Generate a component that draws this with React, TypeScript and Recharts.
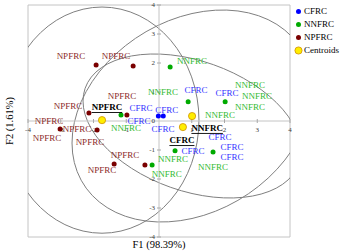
import React from 'react';
import { ComposedChart, Scatter, XAxis, YAxis, ReferenceLine, ReferenceDot, ReferenceArea } from 'recharts';

const groups = ['CFRC', 'NNFRC', 'NPFRC'];
const pointColors = ['#0000ff', '#00aa00', '#7a0000'];
const labelColors = ['#3333ff', '#33bb33', '#8b2a2a'];

const cfrcPoints = [
  { x: -0.02, y: 0.17 }, { x: 0.13, y: 0.17 },
];
const nnfrcPoints = [
  { x: 0.34, y: 1.86 }, { x: 0.89, y: 0.66 }, { x: 2.02, y: 0.66 }, { x: -1.16, y: 0.21 },
  { x: 0.49, y: -1.03 }, { x: 1.65, y: -1.07 }, { x: -0.21, y: -1.52 },
];
const npfrcPoints = [
  { x: -1.92, y: 1.93 }, { x: -0.79, y: 1.9 }, { x: -2.14, y: 0.28 }, { x: -0.98, y: 0.21 },
  { x: -3.02, y: -0.28 }, { x: -1.89, y: -0.31 }, { x: -1.37, y: -1.48 }, { x: -0.43, y: -1.52 },
];
const centroids = [
  { name: 'NPFRC', x: -1.74, y: 0.03 },
  { name: 'NNFRC', x: 1.01, y: 0.17 },
  { name: 'CFRC', x: 0.73, y: -0.21 },
];

const cfrcLabels = [
  { x: -0.55, y: 0.45 }, { x: 0.24, y: 0.38 }, { x: -0.61, y: 0.0 }, { x: 0.12, y: -0.28 },
  { x: 1.13, y: 1.07 }, { x: 2.08, y: 0.97 }, { x: 1.86, y: -0.55 }, { x: 1.04, y: -1.03 },
  { x: 2.23, y: -0.9 }, { x: 2.23, y: -1.24 },
];
const nnfrcLabels = [
  { x: 1.01, y: 2.07 }, { x: 0.12, y: 1.0 }, { x: 2.78, y: 1.24 }, { x: 2.99, y: 0.86 },
  { x: 2.78, y: 0.48 }, { x: 1.86, y: 0.21 }, { x: -1.01, y: -0.24 }, { x: 0.43, y: -1.31 },
  { x: 0.24, y: -1.83 }, { x: 1.65, y: -1.59 },
];
const npfrcLabels = [
  { x: -2.69, y: 2.24 }, { x: -1.31, y: 2.24 }, { x: -1.13, y: 0.86 }, { x: -2.78, y: 0.52 },
  { x: -3.36, y: 0.0 }, { x: -2.5, y: -0.28 }, { x: -3.42, y: -0.59 }, { x: -2.11, y: -0.72 },
  { x: -1.04, y: -1.17 }, { x: -1.74, y: -1.69 },
];
const centroidLabels = [
  { name: 'NPFRC', x: -1.59, y: 0.48 },
  { name: 'NNFRC', x: 1.47, y: -0.24 },
  { name: 'CFRC', x: 0.7, y: -0.66 },
];

// confidence ellipses: bounding box in data units and a tilt (vertical shear fraction)
const ellipses = [
  { name: 'NPFRC', x1: -4.7, x2: 1.22, y1: -3.87, y2: 3.93, tilt: 0 },
  { name: 'NNFRC', x1: -2.656, x2: 4.672, y1: -3.483, y2: 3.827, tilt: 0.255 },
  { name: 'CFRC', x1: -2.32, x2: 4.336, y1: -2.655, y2: 2.311, tilt: -0.347 },
];

const xTicks = [-4, -3, -2, -1, 1, 2, 3, 4];
const yTicks = [-4, -3, -2, -1, 0, 1, 2, 3, 4];
const legendItems = ['CFRC', 'NNFRC', 'NPFRC', 'Centroids'];

const FONT = '"Liberation Serif", "Times New Roman", serif';

const EllipseShape = (tilt: number) => (p: any) => {
  const w = p.width / 2;
  const h = p.height / 2;
  const cx = p.x + w;
  const cy = p.y + h;
  const shear = (-tilt * h) / w;
  const ry = Math.sqrt(1 - tilt * tilt) * h;
  return (
    <g clipPath={p.clipPath}>
      <ellipse
        cx={0}
        cy={0}
        rx={w}
        ry={ry}
        fill="none"
        stroke="#7f7f7f"
        strokeWidth={1}
        vectorEffect="non-scaling-stroke"
        transform={`translate(${cx},${cy}) matrix(1,${shear},0,1,0,0)`}
      />
    </g>
  );
};

const dot = (fill: string, r: number, stroke?: string) => (p: any) => (
  <circle cx={p.cx} cy={p.cy} r={r} fill={fill} stroke={stroke || 'none'} strokeWidth={stroke ? 0.8 : 0} />
);

const textShape = (txt: string, color: string) => (p: any) => (
  <text
    x={p.cx}
    y={p.cy}
    textAnchor="middle"
    dominantBaseline="central"
    fontFamily={FONT}
    fontSize={9}
    fill={color}
  >
    {txt}
  </text>
);

const centroidLabelShape = (p: any) => (
  <text
    x={p.cx}
    y={p.cy}
    textAnchor="middle"
    dominantBaseline="central"
    fontFamily={FONT}
    fontSize={9}
    fill="#000"
    fontWeight="bold"
    style={{ textDecoration: 'underline' }}
  >
    {p.payload.name}
  </text>
);

export default function App() {
  return (
    <div style={{ position: 'absolute', left: 0, top: 0, width: 340, height: 252, background: '#fff' }}>
      <ComposedChart width={340} height={252} margin={{ top: 5, right: 50, bottom: 15, left: 28 }}>
        <XAxis type="number" dataKey="x" domain={[-4, 4]} allowDataOverflow hide />
        <YAxis type="number" dataKey="y" domain={[-4, 4]} allowDataOverflow hide />
        <ReferenceArea x1={-4} x2={4} y1={-4} y2={4} fill="none" stroke="#c4c4c4" strokeWidth={1} ifOverflow="visible" />
        <ReferenceLine x={0} stroke="#c4c4c4" />
        <ReferenceLine y={0} stroke="#c4c4c4" />
        {xTicks.map((v) => (
          <ReferenceDot
            key={'xt' + v}
            x={v}
            y={0}
            r={0}
            shape={(p: any) => (
              <g>
                <line x1={p.cx} x2={p.cx} y1={p.cy - 2} y2={p.cy + 2} stroke="#a8a8a8" />
                <text x={p.cx} y={p.cy + 10.5} textAnchor="middle" fontFamily={FONT} fontSize={7} fill="#404040">
                  {v}
                </text>
              </g>
            )}
          />
        ))}
        {yTicks.map((v) => (
          <ReferenceDot
            key={'yt' + v}
            x={0}
            y={v}
            r={0}
            shape={(p: any) => (
              <g>
                {v !== 0 && <line x1={p.cx - 2} x2={p.cx + 2} y1={p.cy} y2={p.cy} stroke="#a8a8a8" />}
                <text x={p.cx - 4} y={p.cy} textAnchor="end" dominantBaseline="central" fontFamily={FONT} fontSize={7} fill="#404040">
                  {v}
                </text>
              </g>
            )}
          />
        ))}
        {ellipses.map((e) => (
          <ReferenceArea
            key={'el' + e.name}
            x1={e.x1}
            x2={e.x2}
            y1={e.y1}
            y2={e.y2}
            ifOverflow="hidden"
            shape={EllipseShape(e.tilt)}
          />
        ))}
        <Scatter name="CFRC labels" data={cfrcLabels} shape={textShape('CFRC', labelColors[0])} isAnimationActive={false} />
        <Scatter name="NNFRC labels" data={nnfrcLabels} shape={textShape('NNFRC', labelColors[1])} isAnimationActive={false} />
        <Scatter name="NPFRC labels" data={npfrcLabels} shape={textShape('NPFRC', labelColors[2])} isAnimationActive={false} />
        <Scatter name={groups[0]} data={cfrcPoints} shape={dot(pointColors[0], 2.5)} isAnimationActive={false} />
        <Scatter name={groups[1]} data={nnfrcPoints} shape={dot(pointColors[1], 2.5)} isAnimationActive={false} />
        <Scatter name={groups[2]} data={npfrcPoints} shape={dot(pointColors[2], 2.5)} isAnimationActive={false} />
        <Scatter name="Centroid labels" data={centroidLabels} shape={centroidLabelShape} isAnimationActive={false} />
        <Scatter name="Centroids" data={centroids} shape={dot('#ffee00', 3.6, '#d09000')} isAnimationActive={false} />
        <text x={159} y={248} textAnchor="middle" fontFamily={FONT} fontSize={10.5} fill="#000">
          F1 (98.39%)
        </text>
        <text
          x={0}
          y={0}
          transform="translate(13,121) rotate(-90)"
          textAnchor="middle"
          fontFamily={FONT}
          fontSize={10.5}
          fill="#000"
        >
          F2 (1.61%)
        </text>
      </ComposedChart>
      <div style={{ position: 'absolute', left: 294, top: 5, fontFamily: FONT, fontSize: 9, lineHeight: '13px' }}>
        {legendItems.map((name, i) => (
          <div key={name} style={{ display: 'flex', alignItems: 'center', height: 13 }}>
            <svg width={9} height={9} style={{ marginRight: 1 }}>
              {i < 3 ? (
                <circle cx={4.5} cy={4.5} r={2.5} fill={pointColors[i]} />
              ) : (
                <circle cx={4.5} cy={4.5} r={3.6} fill="#ffee00" stroke="#d09000" strokeWidth={0.8} />
              )}
            </svg>
            <span>{name}</span>
          </div>
        ))}
      </div>
    </div>
  );
}
